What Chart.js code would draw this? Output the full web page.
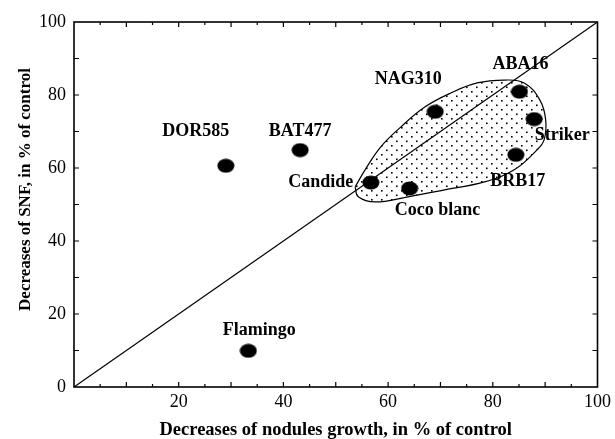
<!DOCTYPE html>
<html>
<head>
<meta charset="utf-8">
<script src="https://cdn.jsdelivr.net/npm/chart.js@4"></script>
<style>
  body { margin: 0; background: #fff; }
  #wrap { width: 615px; height: 439px; }
</style>
</head>
<body>
<div id="wrap"><canvas id="chart" width="615" height="439"></canvas></div>
<script>
// cultivars and their decreases (% of control)
const cultivars = ["DOR585", "BAT477", "Flamingo", "Candide", "Coco blanc", "NAG310", "ABA16", "Striker", "BRB17"]
const noduleDecrease = [29.0, 43.2, 33.3, 56.7, 64.1, 69.0, 85.1, 87.9, 84.4]
const snfDecrease = [60.6, 64.9, 9.9, 56.0, 54.4, 75.4, 80.9, 73.4, 63.6]

// label offset from its dot, in pixels
const labelShift = [[-30, -34], [0, -19], [11, -21], [-50, 0], [28, 22], [-27, -32], [1, -27], [28, 16], [2, 26]]

// outline of the dotted group
const zoneX = [53.7, 55.6, 58.6, 62.4, 67.0, 71.9, 77.0, 82.2, 86.0, 89.0, 90.1, 89.8, 88.4, 84.1, 78.4, 70.8, 63.8, 57.5, 54.3, 53.7]
const zoneY = [54.8, 59.5, 65.8, 71.2, 76.7, 80.5, 83.3, 84.1, 83.3, 78.6, 73.2, 67.7, 64.9, 59.5, 56.2, 54.0, 52.1, 50.7, 52.1, 54.8]

// 1:1 line
const lineX = [0, 100]
const lineY = [0, 100]

const xTickLabels = [20, 40, 60, 80, 100]
const yTickLabels = [0, 20, 40, 60, 80, 100]

const xTitle = "Decreases of nodules growth, in % of control"
const yTitle = "Decreases of SNF, in % of control"

const serif = "'Liberation Serif', 'Times New Roman', serif"

function dotPattern() {
  const c = document.createElement("canvas")
  c.width = 10
  c.height = 9
  const g = c.getContext("2d")
  g.fillStyle = "#000"
  g.fillRect(1, 1, 1.6, 1.6)
  g.fillRect(6, 5.5, 1.6, 1.6)
  return g.createPattern(c, "repeat")
}

function blob() {
  const c = document.createElement("canvas")
  c.width = 18
  c.height = 15
  const g = c.getContext("2d")
  g.fillStyle = "#000"
  g.beginPath()
  g.ellipse(9, 7.5, 8.5, 7, 0, 0, Math.PI * 2)
  g.fill()
  return c
}

// frame + inward tick marks on all four sides
const framePlugin = {
  id: "frame",
  afterDatasetsDraw(chart) {
    const ctx = chart.ctx
    const a = chart.chartArea
    const xs = chart.scales.x
    const ys = chart.scales.y
    ctx.save()
    ctx.strokeStyle = "#000"
    ctx.lineWidth = 1.6
    ctx.strokeRect(a.left, a.top, a.right - a.left, a.bottom - a.top)
    ctx.lineWidth = 1.2
    ctx.beginPath()
    for (let v = 5; v < 100; v += 5) {
      const px = xs.getPixelForValue(v)
      const len = v % 10 === 0 ? 5 : 3
      ctx.moveTo(px, a.bottom); ctx.lineTo(px, a.bottom - len)
      ctx.moveTo(px, a.top); ctx.lineTo(px, a.top + len)
    }
    for (let v = 10; v < 100; v += 10) {
      const py = ys.getPixelForValue(v)
      ctx.moveTo(a.left, py); ctx.lineTo(a.left + 5, py)
      ctx.moveTo(a.right, py); ctx.lineTo(a.right - 5, py)
    }
    ctx.stroke()
    ctx.restore()
  }
}

// cultivar names beside the dots, plus the y-axis title (sits a bit above centre in the original)
const namePlugin = {
  id: "names",
  afterDatasetsDraw(chart) {
    const ctx = chart.ctx
    const meta = chart.getDatasetMeta(2)
    ctx.save()
    ctx.fillStyle = "#000"
    ctx.font = "bold 18px " + serif
    ctx.textAlign = "center"
    ctx.textBaseline = "middle"
    meta.data.forEach(function(pt, i) {
      ctx.fillText(cultivars[i], pt.x + labelShift[i][0], pt.y + labelShift[i][1])
    })
    const a = chart.chartArea
    ctx.font = "bold 17px " + serif
    ctx.translate(26, (a.top + a.bottom) / 2 - 15)
    ctx.rotate(-Math.PI / 2)
    ctx.fillText(yTitle, 0, 0)
    ctx.restore()
  }
}

new Chart(document.getElementById("chart"), {
  type: "scatter",
  data: {
    datasets: [
      {
        label: "group",
        data: zoneX.map((x, i) => ({ x: x, y: zoneY[i] })),
        showLine: true,
        tension: 0.4,
        borderColor: "#000",
        borderWidth: 1.2,
        backgroundColor: dotPattern(),
        fill: "shape",
        pointRadius: 0,
        order: 3
      },
      {
        label: "1:1",
        data: lineX.map((x, i) => ({ x: x, y: lineY[i] })),
        showLine: true,
        borderColor: "#000",
        borderWidth: 1.2,
        pointRadius: 0,
        fill: false,
        order: 2
      },
      {
        label: "cultivars",
        data: noduleDecrease.map((x, i) => ({ x: x, y: snfDecrease[i] })),
        pointStyle: blob(),
        pointRadius: 8,
        order: 1
      }
    ]
  },
  options: {
    responsive: false,
    animation: false,
    layout: { padding: { top: 22, right: 14, left: 0, bottom: 0 } },
    plugins: {
      legend: { display: false },
      tooltip: { enabled: false }
    },
    scales: {
      x: {
        min: 0,
        max: 100,
        grid: { display: false, drawTicks: false },
        border: { display: false },
        afterFit: function(s) { s.height = 52 },
        ticks: {
          stepSize: 5,
          autoSkip: false,
          maxRotation: 0,
          padding: 4,
          color: "#000",
          font: { family: serif, size: 18 },
          callback: function(v) { return xTickLabels.includes(v) ? String(v) : "" }
        },
        title: {
          display: true,
          text: xTitle,
          color: "#000",
          font: { family: serif, size: 18.5, weight: "bold", lineHeight: 1 },
          padding: { top: 0, bottom: 0 }
        }
      },
      y: {
        min: 0,
        max: 100,
        grid: { display: false, drawTicks: false },
        border: { display: false },
        afterFit: function(s) { s.width = 74 },
        ticks: {
          stepSize: 10,
          autoSkip: false,
          padding: 8,
          color: "#000",
          font: { family: serif, size: 18 },
          callback: function(v) { return yTickLabels.includes(v) ? String(v) : "" }
        }
      }
    }
  },
  plugins: [framePlugin, namePlugin]
})
</script>
</body>
</html>
